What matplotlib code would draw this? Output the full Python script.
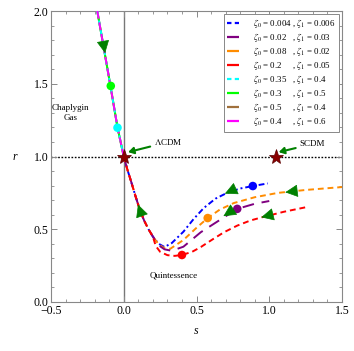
import numpy as np
import matplotlib
matplotlib.use("Agg")
import matplotlib.pyplot as plt
from matplotlib.lines import Line2D
from matplotlib.ticker import MultipleLocator

plt.rcParams['font.family'] = ['Liberation Serif', 'DejaVu Serif']
plt.rcParams['mathtext.fontset'] = 'stix'

# upper branch (Chaplygin gas side), shared by the four large-zeta models
upper_s = [-0.182, -0.145, -0.094, -0.043, 0.0]
upper_r = [2.0, 1.79, 1.50, 1.20, 1.0]

# lower branch common to the four small-zeta models, from LCDM downwards
common_s = [0.0, 0.025, 0.05, 0.08, 0.11, 0.14, 0.17, 0.20]
common_r = [1.0, 0.91, 0.83, 0.73, 0.635, 0.56, 0.50, 0.45]

blue_s = [0.24, 0.28, 0.33, 0.41, 0.48, 0.55, 0.63, 0.71, 0.80, 0.887, 0.99]
blue_r = [0.40, 0.378, 0.405, 0.483, 0.57, 0.646, 0.71, 0.75, 0.78, 0.797, 0.815]

purple_s = [0.24, 0.28, 0.33, 0.41, 0.53, 0.67, 0.78, 0.90, 1.0]
purple_r = [0.39, 0.362, 0.352, 0.38, 0.48, 0.57, 0.64, 0.675, 0.694]

orange_s = [0.24, 0.28, 0.32, 0.41, 0.50, 0.577, 0.66, 0.756, 0.90, 1.06, 1.25, 1.5]
orange_r = [0.395, 0.37, 0.366, 0.426, 0.51, 0.577, 0.635, 0.68, 0.72, 0.75, 0.77, 0.79]

red_s = [0.22, 0.25, 0.30, 0.35, 0.40, 0.47, 0.53, 0.61, 0.69, 0.78, 0.87, 0.96, 1.10, 1.26]
red_r = [0.385, 0.345, 0.322, 0.317, 0.323, 0.345, 0.378, 0.43, 0.48, 0.525, 0.56, 0.585, 0.62, 0.653]

# present-day points
point_s = [0.887, 0.78, 0.577, 0.40, -0.043, -0.089]
point_r = [0.797, 0.64, 0.577, 0.323, 1.198, 1.485]
point_c = ['#0000ff', '#800080', '#ff8c00', '#ff0000', '#00ffff', '#00ff00']

# direction arrows along the trajectories: tip (s, r) and direction (ds, dr)
arrow_tip = [(-0.128, 1.71), (0.098, 0.67), (0.695, 0.745), (0.685, 0.59),
             (1.11, 0.754), (0.945, 0.582)]
arrow_dir = [(0.18, -1.0), (-0.35, 1.0), (-1.0, -0.45), (-1.0, -0.64),
             (-1.0, -0.12), (-1.0, -0.25)]

legend_labels = [
    r'$\zeta_0$ = 0.004 , $\zeta_1$ = 0.006',
    r'$\zeta_0$ = 0.02   , $\zeta_1$ = 0.03',
    r'$\zeta_0$ = 0.08   , $\zeta_1$ = 0.02',
    r'$\zeta_0$ = 0.2     , $\zeta_1$ = 0.05',
    r'$\zeta_0$ = 0.35   , $\zeta_1$ = 0.4',
    r'$\zeta_0$ = 0.3     , $\zeta_1$ = 0.5',
    r'$\zeta_0$ = 0.5     , $\zeta_1$ = 0.4',
    r'$\zeta_0$ = 0.4     , $\zeta_1$ = 0.6',
]
legend_colors = ['#0000ff', '#800080', '#ff8c00', '#ff0000',
                 '#00ffff', '#00ff00', '#a0703c', '#ff00ff']
legend_dashes = [(2, 1.5), (4, 0), (2, 0), (2, 0), (2, 1.5), (4, 0), (4, 0), (4, 0)]

fig = plt.figure(figsize=(3.54, 3.51), dpi=100)
ax = fig.add_axes([51 / 354, 49 / 351, 291 / 354, 291 / 351])

# reference lines
ax.axvline(0, color='#777777', lw=1.0, zorder=1)
ax.axhline(1, color='black', lw=1.0, ls=(0, (1.2, 1.2)), zorder=1)

lw = 1.4
# upper branch: overlapping curves
ax.plot(upper_s, upper_r, color='#a0703c', lw=lw, zorder=2)
ax.plot(upper_s, upper_r, color='#00ff00', lw=lw, zorder=2)
ax.plot(upper_s, upper_r, color='#00ffff', lw=lw, dashes=(3, 2), zorder=3)
ax.plot(upper_s, upper_r, color='#ff00ff', lw=lw, dashes=(4, 2), zorder=3)

# lower branch trajectories
ax.plot(common_s + blue_s, common_r + blue_r, color='#0000ff', lw=lw,
        dashes=(3, 1.5, 1, 1.5), zorder=3)
ax.plot(common_s + orange_s, common_r + orange_r, color='#ff8c00', lw=lw,
        dashes=(3, 2), zorder=3)
ax.plot(common_s + purple_s, common_r + purple_r, color='#800080', lw=lw,
        dashes=(6, 4), zorder=3)
ax.plot(common_s + red_s, common_r + red_r, color='#ff0000', lw=lw,
        dashes=(3, 2), zorder=4)

ax.scatter(point_s, point_r, s=38, c=point_c, zorder=5, linewidths=0)

for (ts, tr), (ds, dr) in zip(arrow_tip, arrow_dir):
    n = np.hypot(ds, dr)
    ax.annotate('', xy=(ts, tr), xytext=(ts - 0.035 * ds / n, tr - 0.035 * dr / n),
                arrowprops=dict(arrowstyle='-|>,head_length=0.9,head_width=0.45',
                                color='#008000', lw=0.5, shrinkA=0, shrinkB=0,
                                mutation_scale=9), zorder=6)

# fixed points
ax.plot([0.0, 1.045], [1.0, 1.0], ls='none', marker='*', ms=11,
        color='#8b0000', mec='#5a0000', mew=0.5, zorder=7)

ax.annotate(r'$\Lambda$CDM', xy=(0.03, 1.03), xytext=(0.21, 1.10),
            fontsize=6.5, va='center', ha='left',
            arrowprops=dict(arrowstyle='-|>,head_length=0.5,head_width=0.3',
                            color='#008000', lw=1.5, shrinkA=1, shrinkB=0))
ax.annotate('SCDM', xy=(1.065, 1.03), xytext=(1.21, 1.086),
            fontsize=6.5, va='center', ha='left',
            arrowprops=dict(arrowstyle='-|>,head_length=0.5,head_width=0.3',
                            color='#008000', lw=1.5, shrinkA=1, shrinkB=0))

ax.text(-0.365, 1.30, 'Chaplygin\nGas', fontsize=6.5, ha='center', va='center',
        linespacing=1.3)
ax.text(0.34, 0.18, 'Quintessence', fontsize=6.5, ha='center', va='center')

ax.set_xlim(-0.5, 1.5)
ax.set_ylim(0, 2.0)
ax.xaxis.set_major_locator(MultipleLocator(0.5))
ax.xaxis.set_minor_locator(MultipleLocator(0.1))
ax.yaxis.set_major_locator(MultipleLocator(0.5))
ax.yaxis.set_minor_locator(MultipleLocator(0.1))
ax.xaxis.set_major_formatter(plt.FuncFormatter(lambda v, p: f'{v:.1f}'.replace('-', '\u2212')))
ax.yaxis.set_major_formatter(plt.FuncFormatter(lambda v, p: f'{v:.1f}'))
ax.tick_params(which='both', direction='in', top=True, right=True,
               color='#888888', labelsize=8.5, labelcolor='black', pad=2)
ax.tick_params(which='major', length=4.5, width=0.7)
ax.tick_params(which='minor', length=2.5, width=0.6)
for sp in ax.spines.values():
    sp.set_color('#888888')
    sp.set_linewidth(0.8)

ax.set_xlabel('s', fontsize=8.5, style='italic')
ax.set_ylabel('r', fontsize=8.5, style='italic', rotation=0, ha='center', va='center')
ax.xaxis.set_label_coords(0.5, -0.08)
ax.yaxis.set_label_coords(-0.124, 0.5)

handles = [Line2D([], [], color=c, lw=1.6, dashes=d)
           for c, d in zip(legend_colors, legend_dashes)]
leg = ax.legend(handles, legend_labels, loc='upper right',
                bbox_to_anchor=(0.988, 0.99), fontsize=6.4, handlelength=1.3,
                handletextpad=1.6, labelspacing=0.12, borderpad=0.35,
                borderaxespad=0, fancybox=False, framealpha=1,
                edgecolor='#888888')
leg.get_frame().set_linewidth(0.7)

fig.savefig('out.png', dpi=100)
